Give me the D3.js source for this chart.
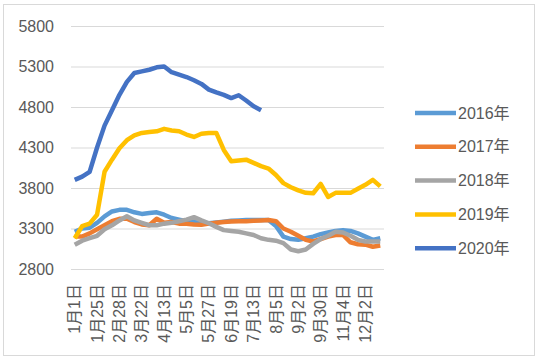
<!DOCTYPE html>
<html>
<head>
<meta charset="utf-8">
<script src="https://d3js.org/d3.v7.min.js"></script>
<style>
  body { margin: 0; background: #fff; }
  svg { display: block; }
</style>
</head>
<body>
<div id="container"></div>
<script>
// categories (weekly dates), only every 3rd one gets a label
const dates = [
  "1月1日", "1月8日", "1月15日", "1月25日", "2月14日", "2月21日", "2月28日",
  "3月7日", "3月14日", "3月22日", "3月29日", "4月6日", "4月13日", "4月20日",
  "4月27日", "5月5日", "5月12日", "5月19日", "5月27日", "6月3日", "6月10日",
  "6月19日", "6月26日", "7月3日", "7月13日", "7月20日", "7月27日", "8月5日",
  "8月12日", "8月19日", "9月2日", "9月9日", "9月16日", "9月30日", "10月14日",
  "10月21日", "11月4日", "11月11日", "11月18日", "12月2日", "12月9日", "12月16日"
];

const yTicks = [2800, 3300, 3800, 4300, 4800, 5300, 5800];

const names = ["2016年", "2017年", "2018年", "2019年", "2020年"];

const v2016 = [3260, 3300, 3310, 3370, 3450, 3510, 3530, 3530, 3500, 3480, 3490, 3500, 3470, 3430,
  3410, 3390, 3380, 3370, 3365, 3375, 3385, 3395, 3400, 3405, 3405, 3405, 3405, 3330,
  3200, 3170, 3160, 3180, 3200, 3230, 3250, 3270, 3280, 3270, 3240, 3200, 3160, 3180];

const v2017 = [3200, 3200, 3240, 3290, 3340, 3390, 3420, 3420, 3380, 3350, 3340, 3420, 3370, 3380,
  3360, 3360, 3350, 3345, 3360, 3370, 3380, 3385, 3390, 3390, 3395, 3400, 3405, 3390,
  3300, 3260, 3210, 3160, 3140, 3170, 3200, 3220, 3220, 3130, 3105, 3100, 3075, 3090];

const v2018 = [3100, 3150, 3180, 3210, 3290, 3340, 3400, 3450, 3400, 3370, 3340, 3340, 3360, 3370,
  3390, 3410, 3440, 3400, 3365, 3320, 3280, 3270, 3260, 3240, 3220, 3180, 3160, 3150,
  3120, 3040, 3020, 3040, 3110, 3170, 3210, 3260, 3250, 3210, 3160, 3140, 3140, 3140];

const v2019 = [3180, 3330, 3360, 3470, 4000, 4150, 4290, 4390, 4450, 4480, 4490, 4500, 4530, 4510,
  4500, 4460, 4430, 4470, 4480, 4480, 4270, 4130, 4140, 4150, 4110, 4070, 4040, 3960,
  3860, 3810, 3770, 3740, 3735, 3850, 3690, 3740, 3740, 3740, 3790, 3840, 3900, 3820];

const v2020 = [3900, 3940, 4000, 4300, 4570, 4760, 4950, 5110, 5220, 5240, 5260, 5290, 5300, 5230,
  5200, 5170, 5130, 5085, 5015, 4980, 4950, 4910, 4945, 4880, 4810, 4760];

const colors = ["#5B9BD5", "#ED7D31", "#A5A5A5", "#FFC000", "#4472C4"];

const series = [v2016, v2017, v2018, v2019, v2020];

const width = 539;
const height = 363;
const font = "'Liberation Sans', 'Noto Sans CJK SC', sans-serif";

const svg = d3.select("#container").append("svg")
  .attr("width", width)
  .attr("height", height);

// chart border
svg.append("rect")
  .attr("x", 3.5).attr("y", 4.5)
  .attr("width", 531).attr("height", 351)
  .attr("fill", "#fff")
  .attr("stroke", "#d9d9d9");

const x = d3.scaleBand()
  .domain(dates)
  .range([71, 384]);

const y = d3.scaleLinear()
  .domain([2800, 5800])
  .range([269, 26]);

// gridlines + y labels
const yAxis = svg.append("g")
  .attr("transform", "translate(71,0)")
  .call(d3.axisLeft(y).tickValues(yTicks).tickSize(-(384 - 71)).tickPadding(17).tickFormat(d3.format("d")));
yAxis.select(".domain").remove();
yAxis.selectAll(".tick line").attr("stroke", "#d9d9d9");
yAxis.selectAll(".tick text")
  .attr("fill", "#595959")
  .style("font-family", font)
  .style("font-size", "16px");

// x labels, rotated
const xAxis = svg.append("g")
  .attr("transform", "translate(0,269)")
  .call(d3.axisBottom(x).tickValues(dates.filter((d, i) => i % 3 === 0)).tickSize(0));
xAxis.select(".domain").remove();
xAxis.selectAll(".tick text")
  .attr("fill", "#595959")
  .style("font-family", font)
  .style("font-size", "16px")
  .attr("text-anchor", "end")
  .attr("dy", "0.35em")
  .attr("transform", "translate(0,15) rotate(-90)")
  .attr("x", 0)
  .attr("y", 0);

// lines
const line = d3.line()
  .defined(d => d != null)
  .x((d, i) => x(dates[i]) + x.bandwidth() / 2)
  .y(d => y(d));

series.forEach(function (vals, k) {
  svg.append("path")
    .datum(vals)
    .attr("fill", "none")
    .attr("stroke", colors[k])
    .attr("stroke-width", 4.5)
    .attr("stroke-linejoin", "round")
    .attr("d", line);
});

// legend
const legend = svg.append("g");
names.forEach(function (name, k) {
  const ly = 113 + k * 33.8;
  legend.append("line")
    .attr("x1", 415).attr("x2", 456)
    .attr("y1", ly).attr("y2", ly)
    .attr("stroke", colors[k])
    .attr("stroke-width", 4.5);
  legend.append("text")
    .attr("x", 458).attr("y", ly)
    .attr("dy", "0.35em")
    .attr("fill", "#595959")
    .style("font-family", font)
    .style("font-size", "16px")
    .text(name);
});
</script>
</body>
</html>
